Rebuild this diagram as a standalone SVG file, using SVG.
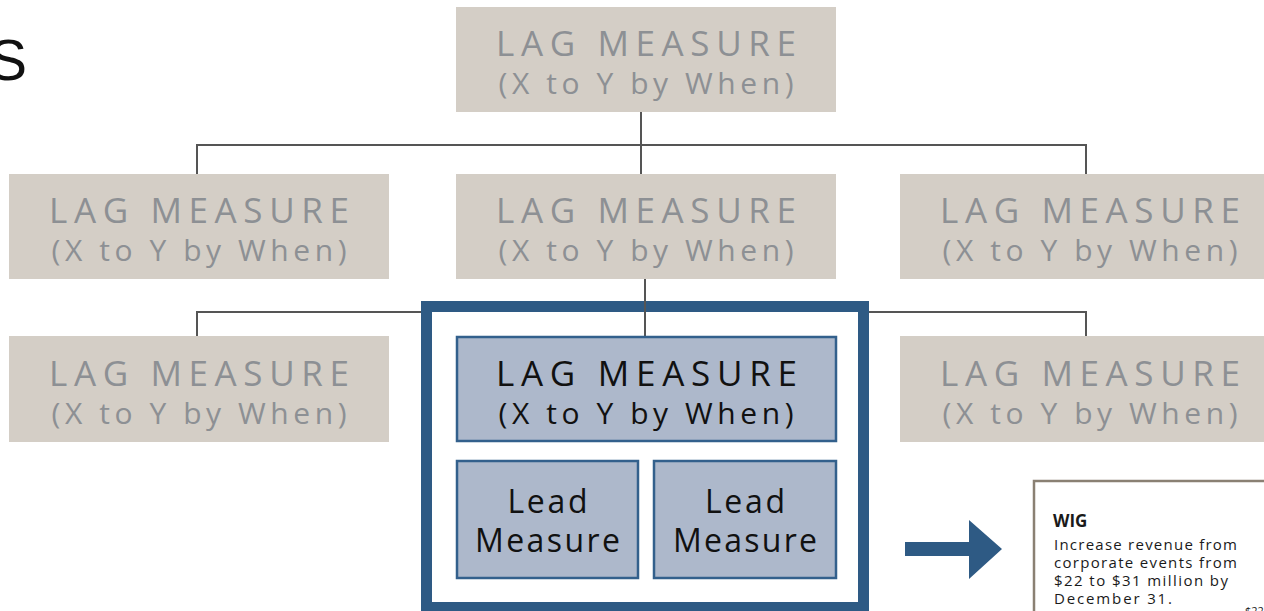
<svg xmlns="http://www.w3.org/2000/svg" width="1264" height="611" viewBox="0 0 1264 611">
  <style>
    .lag { fill: #d4cec6; }
    .lag-t1 { font-family: "Open Sans", "Liberation Sans", sans-serif; font-size: 35px; fill: #8d9094; text-anchor: middle; }
    .lag-t2 { font-family: "Open Sans", "Liberation Sans", sans-serif; font-size: 30px; fill: #8d9094; text-anchor: middle; }
    .focus { fill: #adb8cb; stroke: #33608c; stroke-width: 2.5; }
    .focus-t1 { font-family: "Open Sans", "Liberation Sans", sans-serif; font-size: 35px; fill: #111; text-anchor: middle; }
    .focus-t2 { font-family: "Open Sans", "Liberation Sans", sans-serif; font-size: 30px; fill: #111; text-anchor: middle; }
    .lead-t { font-family: "Open Sans", "Liberation Sans", sans-serif; font-size: 32px; fill: #111; text-anchor: middle; }
    .conn { fill: none; stroke: #555; stroke-width: 2; }
    .wig-h { font-family: "Open Sans", "Liberation Sans", sans-serif; font-size: 17px; font-weight: bold; fill: #1a1a1a; }
    .wig-b { font-family: "Open Sans", "Liberation Sans", sans-serif; font-size: 15px; fill: #1a1a1a; }
  </style>

  <rect width="1264" height="611" fill="#ffffff"/>

  <!-- partial page title at the left edge -->
  <text x="27" y="80" font-family="'Liberation Sans', Arial, sans-serif" font-size="57" fill="#111" text-anchor="end">S</text>

  <!-- highlighted frame around the focus measure -->
  <g id="focus-frame">
    <rect x="426.5" y="306.5" width="437" height="301" fill="#ffffff" stroke="#2e5a84" stroke-width="11"/>
  </g>

  <!-- connectors -->
  <g id="connectors" class="conn">
    <path d="M641 112 V174"/>
    <path d="M197 174 V145 H1086 V174"/>
    <path d="M197 336 V312 H421"/>
    <path d="M869 312 H1086 V336"/>
    <path d="M645 279 V337"/>
  </g>

  <!-- top lag measure -->
  <g id="lag-top">
    <rect class="lag" x="456" y="7" width="380" height="105"/>
    <text class="lag-t1" x="646" y="56" textLength="300" lengthAdjust="spacing">LAG MEASURE</text>
    <text class="lag-t2" x="646" y="94" textLength="295" lengthAdjust="spacing">(X to Y by When)</text>
  </g>

  <!-- second row -->
  <g id="lag-2-left">
    <rect class="lag" x="9" y="174" width="380" height="105"/>
    <text class="lag-t1" x="199" y="223" textLength="300" lengthAdjust="spacing">LAG MEASURE</text>
    <text class="lag-t2" x="199" y="261" textLength="295" lengthAdjust="spacing">(X to Y by When)</text>
  </g>
  <g id="lag-2-mid">
    <rect class="lag" x="456" y="174" width="380" height="105"/>
    <text class="lag-t1" x="646" y="223" textLength="300" lengthAdjust="spacing">LAG MEASURE</text>
    <text class="lag-t2" x="646" y="261" textLength="295" lengthAdjust="spacing">(X to Y by When)</text>
  </g>
  <g id="lag-2-right">
    <rect class="lag" x="900" y="174" width="380" height="105"/>
    <text class="lag-t1" x="1090" y="223" textLength="300" lengthAdjust="spacing">LAG MEASURE</text>
    <text class="lag-t2" x="1090" y="261" textLength="295" lengthAdjust="spacing">(X to Y by When)</text>
  </g>

  <!-- third row -->
  <g id="lag-3-left">
    <rect class="lag" x="9" y="336" width="380" height="106"/>
    <text class="lag-t1" x="199" y="386" textLength="300" lengthAdjust="spacing">LAG MEASURE</text>
    <text class="lag-t2" x="199" y="424" textLength="295" lengthAdjust="spacing">(X to Y by When)</text>
  </g>
  <g id="lag-3-focus">
    <rect class="focus" x="457" y="337" width="379" height="104"/>
    <text class="focus-t1" x="646.5" y="386" textLength="301" lengthAdjust="spacing">LAG MEASURE</text>
    <text class="focus-t2" x="646" y="424" textLength="295" lengthAdjust="spacing">(X to Y by When)</text>
  </g>
  <g id="lag-3-right">
    <rect class="lag" x="900" y="336" width="380" height="106"/>
    <text class="lag-t1" x="1090" y="386" textLength="300" lengthAdjust="spacing">LAG MEASURE</text>
    <text class="lag-t2" x="1090" y="424" textLength="295" lengthAdjust="spacing">(X to Y by When)</text>
  </g>

  <!-- lead measures -->
  <g id="lead-left">
    <rect class="focus" x="457" y="461" width="181" height="117"/>
    <text class="lead-t" x="547.5" y="513" textLength="80" lengthAdjust="spacing">Lead</text>
    <text class="lead-t" x="547.5" y="552" textLength="145" lengthAdjust="spacing">Measure</text>
  </g>
  <g id="lead-right">
    <rect class="focus" x="654" y="461" width="182" height="117"/>
    <text class="lead-t" x="745" y="513" textLength="80" lengthAdjust="spacing">Lead</text>
    <text class="lead-t" x="745" y="552" textLength="144" lengthAdjust="spacing">Measure</text>
  </g>

  <!-- block arrow -->
  <g id="arrow">
    <polygon points="905,542 969,542 969,520 1002,549 969,579 969,556 905,556" fill="#2e5a84"/>
  </g>

  <!-- WIG card -->
  <g id="wig-card">
    <rect x="1034" y="481" width="260" height="160" fill="#ffffff" stroke="#8a8073" stroke-width="2.5"/>
    <text class="wig-h" x="1053" y="527">WIG</text>
    <text class="wig-b" x="1054" y="550" textLength="183" lengthAdjust="spacing">Increase revenue from</text>
    <text class="wig-b" x="1054" y="568" textLength="183" lengthAdjust="spacing">corporate events from</text>
    <text class="wig-b" x="1054" y="586" textLength="174" lengthAdjust="spacing">$22 to $31 million by</text>
    <text class="wig-b" x="1054" y="604" textLength="118" lengthAdjust="spacing">December 31.</text>
    <text x="1245" y="615" font-family="'Open Sans', 'Liberation Sans', sans-serif" font-size="11" fill="#1a1a1a">$22</text>
  </g>
</svg>
